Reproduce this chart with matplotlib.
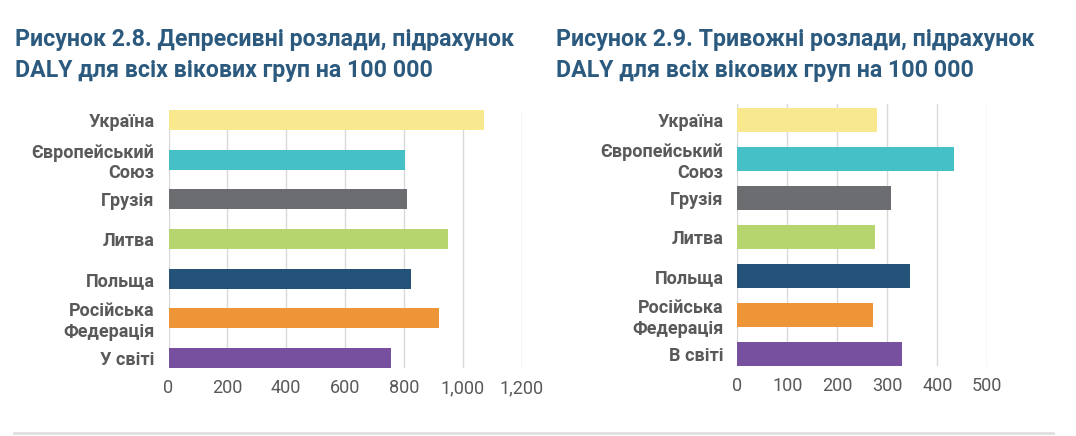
import matplotlib
matplotlib.use("Agg")
import matplotlib.pyplot as plt
from matplotlib.lines import Line2D

plt.rcParams['font.family'] = ['Roboto', 'DejaVu Sans']

# data
countries_left = ["Україна", "Європейський\nСоюз", "Грузія", "Литва", "Польща",
                  "Російська\nФедерація", "У світі"]
countries_right = ["Україна", "Європейський\nСоюз", "Грузія", "Литва", "Польща",
                   "Російська\nФедерація", "В світі"]
depression = [1072, 805, 812, 950, 824, 920, 757]
anxiety = [279, 433, 307, 275, 346, 271, 329]
left_ticks = [0, 200, 400, 600, 800, 1000, 1200]
right_ticks = [0, 100, 200, 300, 400, 500]

colors = ["#f8e98e", "#45c0c7", "#6b6d70", "#b6d56e", "#245279", "#ee9538", "#7750a0"]
title_color = "#2c5a7e"
text_color = "#595959"
grid_color = "#d9d9d9"

W, H = 1076, 436
fig = plt.figure(figsize=(W / 100, H / 100), dpi=100)


def px_axes(x0, x1, ytop, ybot):
    return fig.add_axes([x0 / W, (H - ybot) / H, (x1 - x0) / W, (ybot - ytop) / H])


def draw(ax, labels, values, ticks, height, ylim, fmt):
    y = list(range(len(values)))
    ax.barh(y, values, height=height, color=colors, zorder=3)
    ax.set_xlim(ticks[0], ticks[-1])
    ax.set_ylim(ylim)
    ax.set_xticks(ticks)
    ax.set_xticklabels([fmt(t) for t in ticks])
    ax.set_yticks(y)
    ax.set_yticklabels(labels, fontweight="bold", ha="right")
    ax.tick_params(axis="x", length=0, pad=8, labelsize=13, labelcolor=text_color)
    ax.tick_params(axis="y", length=0, pad=10, labelsize=13, labelcolor=text_color)
    for t in ticks:
        ax.axvline(t, color=grid_color, lw=1, zorder=1)
    for s in ax.spines.values():
        s.set_visible(False)


ax1 = px_axes(168.5, 521.5, 110, 368)
draw(ax1, countries_left, depression, left_ticks, 0.5, (6.25, -0.25),
     lambda t: "{:,}".format(t))

ax2 = px_axes(737.3, 987.3, 104, 366)
draw(ax2, countries_right, anxiety, right_ticks, 0.6, (6.31, -0.41),
     lambda t: str(t))

fig.text(15 / W, 1 - 77 / H, "Рисунок 2.8. Депресивні розлади, підрахунок\nDALY для всіх вікових груп на 100 000",
         color=title_color, fontsize=16.7, fontweight="bold", va="baseline", ha="left",
         linespacing=1.42)
fig.text(556 / W, 1 - 77 / H, "Рисунок 2.9. Тривожні розлади, підрахунок\nDALY для всіх вікових груп на 100 000",
         color=title_color, fontsize=16.7, fontweight="bold", va="baseline", ha="left",
         linespacing=1.42)

fig.add_artist(Line2D([14 / W, 1053 / W], [1 - 433 / H, 1 - 433 / H],
                      transform=fig.transFigure, color="#e0e0e0", lw=2))

fig.savefig("out.png", dpi=100)
